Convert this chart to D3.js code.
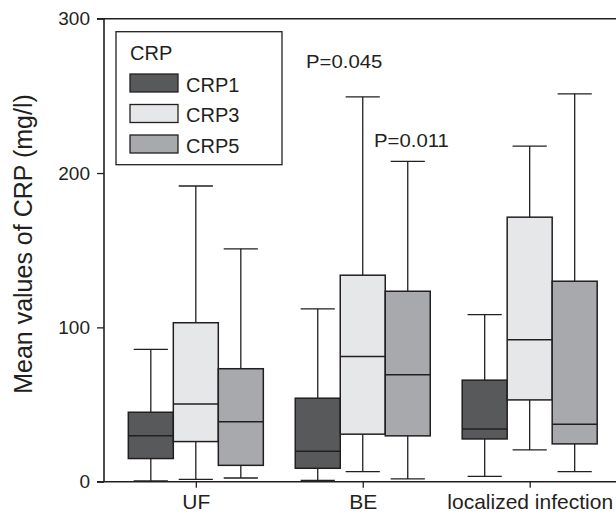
<!DOCTYPE html>
<html>
<head>
<meta charset="utf-8">
<script src="https://cdn.jsdelivr.net/npm/d3@7"></script>
<style>
  body { margin: 0; background: #fff; }
  text { font-family: Arial, "Liberation Sans", sans-serif; fill: #231f20; }
</style>
</head>
<body>
<div id="chart"></div>
<script>
// data
var categories = ["UF", "BE", "localized infection"];
var series = ["CRP1", "CRP3", "CRP5"];
var colors = ["#58595b", "#e6e7e8", "#a7a9ac"];
// one row per series, one value per category
var whiskerLow  = [[0.5, 0.9, 3.5], [1.5, 6.5, 20.6], [2.4, 1.8, 6.5]];
var quartile1   = [[15, 8.7, 27.7], [26, 30.8, 53], [10.6, 29.7, 24.5]];
var medians     = [[29.7, 19.7, 34.2], [50.4, 81.2, 92], [38.8, 69.3, 37.3]];
var quartile3   = [[45, 54.1, 65.8], [103, 133.8, 171.4], [73.2, 123.4, 129.9]];
var whiskerHigh = [[85.7, 112, 108.2], [191.6, 249.4, 217.5], [150.9, 207.6, 251.3]];
var yTicks = [0, 100, 200, 300];
var pLabels = ["P=0.045", "P=0.011"];
var pValues = [268, 217];

var width = 616, height = 514;
var stroke = "#231f20";

var svg = d3.select("#chart").append("svg")
    .attr("width", width)
    .attr("height", height);

var y = d3.scaleLinear().domain([0, 300]).range([481.7, 18.7]);
var x = d3.scalePoint().domain(categories).range([104, 621.5]).padding(0.55);
var xs = d3.scaleBand().domain(series).range([-67.5, 67.5]);
var bw = xs.bandwidth();

// flatten to boxes
var boxes = [];
series.forEach(function(s, i) {
  categories.forEach(function(c, j) {
    boxes.push({
      cat: c, ser: s, color: colors[i],
      lo: whiskerLow[i][j], q1: quartile1[i][j], med: medians[i][j],
      q3: quartile3[i][j], hi: whiskerHigh[i][j]
    });
  });
});
function cx(d) { return x(d.cat) + xs(d.ser) + bw / 2; }

var g = svg.append("g");

// whiskers
g.selectAll(".whisker")
    .data(boxes)
  .enter().append("line")
    .attr("x1", cx).attr("x2", cx)
    .attr("y1", function(d) { return y(d.lo); })
    .attr("y2", function(d) { return y(d.hi); })
    .attr("stroke", stroke).attr("stroke-width", 1.3);

// caps
["lo", "hi"].forEach(function(k) {
  g.selectAll(".cap-" + k)
      .data(boxes)
    .enter().append("line")
      .attr("x1", function(d) { return cx(d) - bw * 0.38; })
      .attr("x2", function(d) { return cx(d) + bw * 0.38; })
      .attr("y1", function(d) { return y(d[k]); })
      .attr("y2", function(d) { return y(d[k]); })
      .attr("stroke", stroke).attr("stroke-width", 1.3);
});

// boxes
g.selectAll(".box")
    .data(boxes)
  .enter().append("rect")
    .attr("x", function(d) { return x(d.cat) + xs(d.ser); })
    .attr("width", bw)
    .attr("y", function(d) { return y(d.q3); })
    .attr("height", function(d) { return y(d.q1) - y(d.q3); })
    .attr("fill", function(d) { return d.color; })
    .attr("stroke", stroke).attr("stroke-width", 1.5);

// medians
g.selectAll(".median")
    .data(boxes)
  .enter().append("line")
    .attr("x1", function(d) { return x(d.cat) + xs(d.ser); })
    .attr("x2", function(d) { return x(d.cat) + xs(d.ser) + bw; })
    .attr("y1", function(d) { return y(d.med); })
    .attr("y2", function(d) { return y(d.med); })
    .attr("stroke", stroke).attr("stroke-width", 1.5);

// y axis
var yAxis = svg.append("g")
    .attr("transform", "translate(104,0)")
    .call(d3.axisLeft(y).tickValues(yTicks).tickSize(7).tickPadding(7));
yAxis.select(".domain").remove();
yAxis.selectAll("line").attr("stroke", stroke).attr("stroke-width", 1.3);
yAxis.selectAll("text").style("font-size", "19px").style("font-family", "Arial, 'Liberation Sans', sans-serif").attr("fill", "#231f20");

// x axis
var xAxis = svg.append("g")
    .attr("transform", "translate(0," + y(0) + ")")
    .call(d3.axisBottom(x).tickSize(6).tickPadding(6));
xAxis.select(".domain").remove();
xAxis.selectAll("line").attr("stroke", stroke).attr("stroke-width", 1.3);
xAxis.selectAll("text").style("font-size", "21px").style("font-family", "Arial, 'Liberation Sans', sans-serif").attr("fill", "#231f20");

// frame lines: left, bottom, top
svg.append("line").attr("x1", 104).attr("x2", 104).attr("y1", y(300)).attr("y2", y(0))
    .attr("stroke", stroke).attr("stroke-width", 1.6);
svg.append("line").attr("x1", 97).attr("x2", width).attr("y1", y(0)).attr("y2", y(0))
    .attr("stroke", stroke).attr("stroke-width", 1.6);
svg.append("line").attr("x1", 97).attr("x2", width).attr("y1", y(300)).attr("y2", y(300))
    .attr("stroke", stroke).attr("stroke-width", 1.6);

// y title
svg.append("text")
    .attr("transform", "translate(32," + 244 + ") rotate(-90)")
    .attr("text-anchor", "middle")
    .style("font-size", "25px")
    .text("Mean values of CRP (mg/l)");

// p-value labels
svg.selectAll(".plabel")
    .data(pLabels)
  .enter().append("text")
    .attr("x", function(d, i) { return i == 0 ? 306 : 374; })
    .attr("y", function(d, i) { return y(pValues[i]); })
    .style("font-size", "18px")
    .text(function(d) { return d; })
    .each(function() {
      var w = this.getComputedTextLength();
      d3.select(this).attr("textLength", w * 1.13).attr("lengthAdjust", "spacingAndGlyphs");
    });

// legend
var legend = svg.append("g");
legend.append("rect")
    .attr("x", 116).attr("y", 31.7).attr("width", 166).attr("height", 133)
    .attr("fill", "#fff").attr("stroke", stroke).attr("stroke-width", 1.3);
legend.append("text")
    .attr("x", 130).attr("y", 60)
    .style("font-size", "20px")
    .text("CRP");
var items = legend.selectAll(".item")
    .data(series)
  .enter().append("g")
    .attr("transform", function(d, i) { return "translate(130," + (74 + i * 30.5) + ")"; });
items.append("rect")
    .attr("width", 48).attr("height", 18)
    .attr("fill", function(d, i) { return colors[i]; })
    .attr("stroke", stroke).attr("stroke-width", 1.3);
items.append("text")
    .attr("x", 56).attr("y", 17.7)
    .style("font-size", "20px")
    .text(function(d) { return d; });
</script>
</body>
</html>
